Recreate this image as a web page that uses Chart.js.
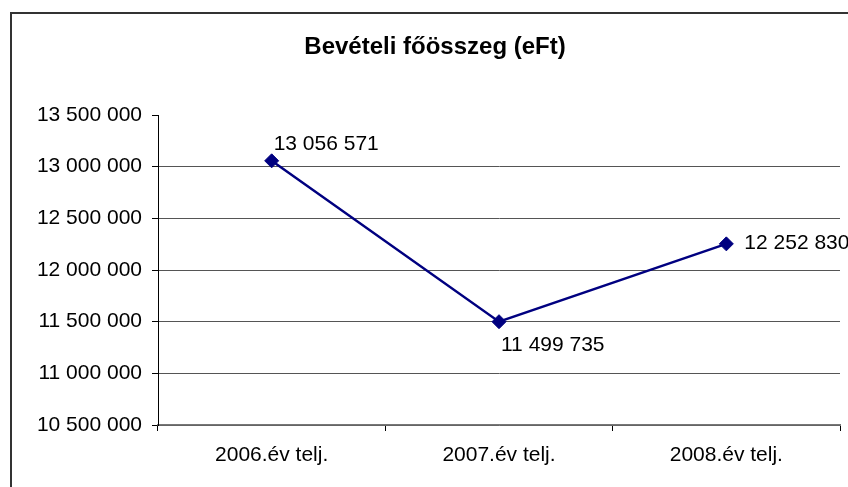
<!DOCTYPE html>
<html>
<head>
<meta charset="utf-8">
<script src="https://cdn.jsdelivr.net/npm/chart.js@4"></script>
<style>
  html, body { margin: 0; padding: 0; background: #fff; overflow: hidden; }
  #frame {
    position: absolute; left: 10px; top: 12px;
    width: 900px; height: 600px;
    border: 2px solid #333;
  }
  #revenueChart { position: absolute; left: 0; top: 0; }
</style>
</head>
<body>
<div id="frame"></div>
<canvas id="revenueChart" width="848" height="487"></canvas>
<script>
// Chart data
const categories = ['2006.év telj.', '2007.év telj.', '2008.év telj.'];
const revenue = [13056571, 11499735, 12252830];
const yMin = 10500000;
const yMax = 13500000;
const yStep = 500000;

const FONT = "'Liberation Sans', Arial, sans-serif";

// Thousands separated by a space, like the original
function formatNumber(value) {
    return String(Math.round(value)).replace(/\B(?=(\d{3})+(?!\d))/g, ' ');
}

// Value labels next to each point (offsets relative to the marker)
const valueLabels = {
    id: 'valueLabels',
    afterDatasetsDraw(chart) {
        const offsets = [[2, -17], [2, 24], [18, -1]];
        const meta = chart.getDatasetMeta(0);
        const ctx = chart.ctx;
        ctx.save();
        ctx.font = '21px ' + FONT;
        ctx.fillStyle = '#000';
        ctx.textAlign = 'left';
        ctx.textBaseline = 'middle';
        meta.data.forEach(function(point, i) {
            const off = offsets[i] || [10, 0];
            ctx.fillText(formatNumber(revenue[i]), point.x + off[0], point.y + off[1]);
        });
        ctx.restore();
    }
};

const revenueChart = new Chart(document.getElementById('revenueChart'), {
    type: 'line',
    data: {
        labels: categories,
        datasets: [{
            label: 'Bevételi főösszeg (eFt)',
            data: revenue,
            borderColor: '#000080',
            borderWidth: 2.5,
            backgroundColor: '#000080',
            pointStyle: 'rectRot',
            pointRadius: 7,
            pointBorderWidth: 1,
            pointBorderColor: '#000080',
            pointBackgroundColor: '#000080',
            tension: 0,
            fill: false
        }]
    },
    options: {
        responsive: false,
        animation: false,
        layout: {
            // left padding shifts the title centre; y axis width keeps the plot at x=158
            padding: { left: 28, right: 6, top: 0, bottom: 0 }
        },
        plugins: {
            legend: { display: false },
            tooltip: { enabled: false },
            title: {
                display: true,
                text: 'Bevételi főösszeg (eFt)',
                color: '#000',
                font: { family: FONT, size: 24, weight: 'bold', lineHeight: 1.2 },
                padding: { top: 32.6, bottom: 53.6 }
            }
        },
        scales: {
            x: {
                type: 'category',
                offset: true,
                afterFit: function(scale) {
                    scale.height = 62;
                    scale.paddingLeft = 0;
                    scale.paddingRight = 0;
                },
                grid: {
                    offset: true,
                    drawOnChartArea: false,
                    drawTicks: true,
                    tickLength: 6,
                    tickColor: '#000'
                },
                border: { color: '#777', width: 1.5 },
                ticks: {
                    color: '#000',
                    padding: 12,
                    maxRotation: 0,
                    font: { family: FONT, size: 21 }
                }
            },
            y: {
                min: yMin,
                max: yMax,
                afterFit: function(scale) { scale.width = 130; },
                grid: {
                    color: function(ctx) {
                        return ctx.tick && ctx.tick.value === yMax ? 'rgba(0,0,0,0)' : '#555';
                    },
                    tickColor: '#000',
                    tickLength: 6,
                    drawTicks: true
                },
                border: { color: '#000', width: 1 },
                ticks: {
                    stepSize: yStep,
                    color: '#000',
                    padding: 10,
                    font: { family: FONT, size: 21 },
                    callback: function(value) { return formatNumber(value); }
                }
            }
        }
    },
    plugins: [valueLabels]
});
</script>
</body>
</html>
